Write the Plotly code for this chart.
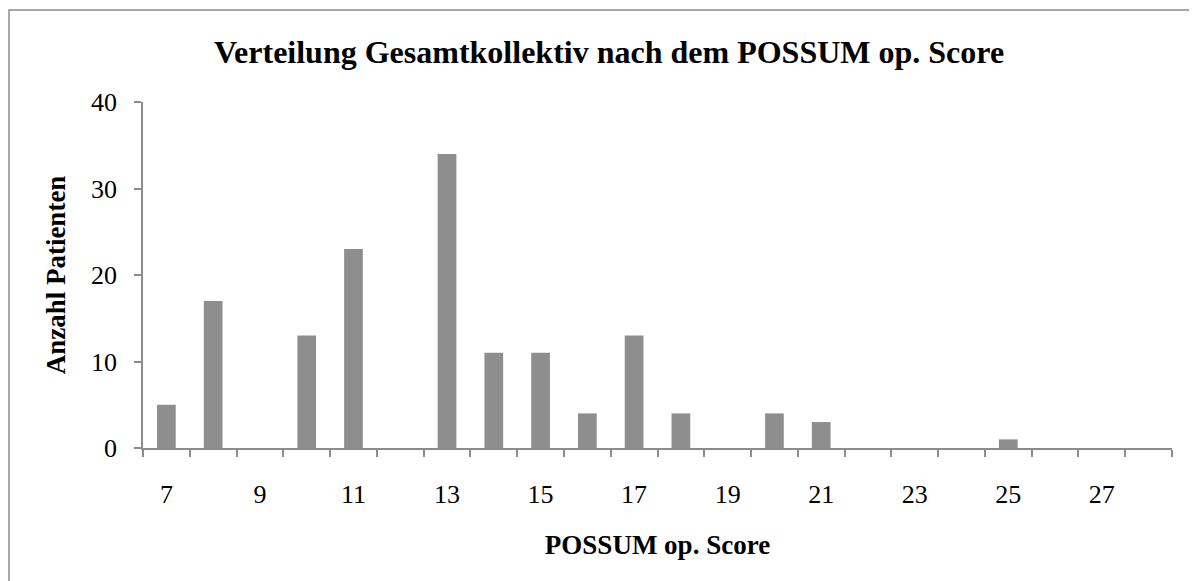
import plotly.graph_objects as go

scores = list(range(7, 29))
patients = [5, 17, 0, 13, 23, 0, 34, 11, 11, 4, 13, 4, 0, 4, 3, 0, 0, 0, 1, 0, 0, 0]
x_tick_vals = list(range(7, 29, 2))
x_tick_text = [str(v) for v in x_tick_vals]
y_tick_vals = [0, 10, 20, 30, 40]

title_text = "Verteilung Gesamtkollektiv nach dem POSSUM op. Score"
x_title = "POSSUM op. Score"
y_title = "Anzahl Patienten"

OFF = 8  # page body margin
W, H = 1197 - 2 * OFF, 581 - OFF
L, R, T, B = 143 - OFF, 1172 - OFF, 102 - OFF, 448 - OFF

font = "Liberation Serif, Times New Roman, serif"
axis_col = "#8c8c8c"

fig = go.Figure()
fig.add_trace(go.Bar(x=scores, y=patients, width=0.4,
                     marker=dict(color="#8e8e8e", line=dict(width=0))))

def px_to_paper_x(px):
    return (px - OFF - L) / (R - L)

def px_to_paper_y(py):
    return (B - (py - OFF)) / (B - T)

fig.update_layout(
    width=W, height=H,
    margin=dict(l=L, r=W - R, t=T, b=H - B, pad=0, autoexpand=False),
    paper_bgcolor="white", plot_bgcolor="white",
    showlegend=False,
    font=dict(family=font, color="black", size=20),
    title=dict(text="<b>%s</b>" % title_text, x=(609 - OFF) / W, xref="container", xanchor="center",
               y=1 - (52 - OFF) / H, yref="container", yanchor="middle",
               font=dict(family=font, size=32, color="black")),
    xaxis=dict(range=[6.5, 28.5], tickmode="array", tickvals=x_tick_vals, ticktext=x_tick_text,
               ticks="", showgrid=False, zeroline=False, showline=True, linecolor=axis_col, linewidth=1.5,
               tickfont=dict(family=font, size=26, color="black"), ticklabelstandoff=22,
               minor=dict(tick0=6.5, dtick=1, ticks="outside", ticklen=7, tickwidth=1.5,
                          tickcolor=axis_col, showgrid=False),
               title=dict(text="<b>%s</b>" % x_title, standoff=27,
                          font=dict(family=font, size=27, color="black"))),
    yaxis=dict(range=[0, 40], tickmode="array", tickvals=y_tick_vals,
               ticks="outside", ticklen=7, tickwidth=1.5, tickcolor=axis_col,
               showgrid=False, zeroline=False, showline=True, linecolor=axis_col, linewidth=1.5,
               tickfont=dict(family=font, size=26, color="black"), ticklabelstandoff=12,
               title=dict(text="<b>%s</b>" % y_title, standoff=18,
                          font=dict(family=font, size=27, color="black"))),
    bargap=0.6,
)

fig.add_shape(type="rect", xref="paper", yref="paper",
              x0=px_to_paper_x(OFF + 1), x1=px_to_paper_x(1230),
              y0=px_to_paper_y(620), y1=px_to_paper_y(10),
              line=dict(color="#8c8c8c", width=1.5), fillcolor="rgba(0,0,0,0)", layer="below")

fig.write_html("out.html")
